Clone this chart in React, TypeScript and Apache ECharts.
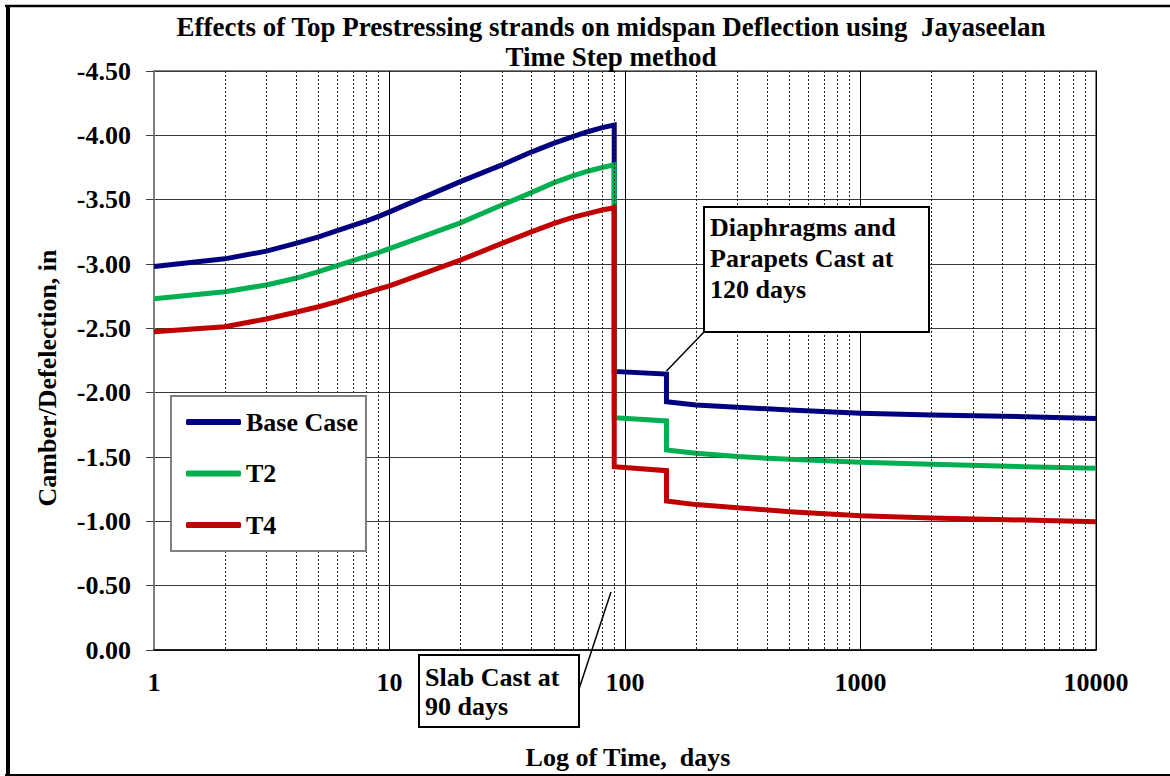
import React, { useEffect, useRef } from "react";
import * as echarts from "echarts";

const days = [1, 2, 3, 4, 5, 6, 7, 8, 9, 10, 20, 30, 40, 50, 60, 70, 80, 90, 90, 150, 150, 200, 300, 500, 1000, 2000, 5000, 10000];
const baseCase = [-2.98, -3.04, -3.10, -3.16, -3.21, -3.26, -3.30, -3.335, -3.37, -3.405, -3.64, -3.77, -3.87, -3.94, -3.99, -4.03, -4.06, -4.08,
  -2.165, -2.145, -1.93, -1.905, -1.886, -1.865, -1.84, -1.826, -1.813, -1.80];
const t2 = [-2.73, -2.785, -2.837, -2.889, -2.94, -2.987, -3.027, -3.06, -3.09, -3.12, -3.32, -3.458, -3.555, -3.632, -3.684, -3.723, -3.75, -3.77,
  -1.805, -1.78, -1.555, -1.53, -1.503, -1.482, -1.459, -1.443, -1.424, -1.413];
const t4 = [-2.474, -2.513, -2.573, -2.625, -2.668, -2.707, -2.746, -2.777, -2.806, -2.83, -3.03, -3.16, -3.25, -3.316, -3.363, -3.394, -3.42, -3.437,
  -1.425, -1.394, -1.158, -1.13, -1.106, -1.075, -1.044, -1.026, -1.01, -0.997];
const seriesNames = ["Base Case", "T2", "T4"];
const seriesColors = ["#000080", "#00B050", "#C00000"];
const minorTicks = [2, 3, 4, 5, 6, 7, 8, 9, 20, 30, 40, 50, 60, 70, 80, 90, 200, 300, 400, 500, 600, 700, 800, 900, 2000, 3000, 4000, 5000, 6000, 7000, 8000, 9000];

const FONT = '"Liberation Serif", "Times New Roman", serif';
const font = (s: number) => `bold ${s}px ${FONT}`;

export default function App() {
  const ref = useRef<HTMLDivElement>(null);
  useEffect(() => {
    if (!ref.current) return;
    const chart = echarts.init(ref.current, null, { renderer: "svg" });
    const allSeries = [baseCase, t2, t4];
    const option: any = {
      animation: false,
      backgroundColor: "#ffffff",
      grid: {
        left: 154, right: 74, top: 71, bottom: 126,
        show: true, borderColor: "#808080", borderWidth: 2,
        containLabel: false, outerBoundsMode: "none",
      },
      xAxis: {
        type: "log", logBase: 10, min: 1, max: 10000,
        axisLine: { show: true, lineStyle: { color: "#000", width: 1.5 } },
        axisTick: { show: false },
        axisLabel: {
          margin: 19, color: "#000", fontSize: 26, fontWeight: "bold", fontFamily: FONT,
          formatter: (v: number) => String(Math.round(v)),
        },
        splitLine: { show: true, lineStyle: { color: "#000", width: 1 } },
        minorTick: { show: false },
      },
      yAxis: {
        type: "value", inverse: true, min: -4.5, max: 0, interval: 0.5,
        axisLine: { show: true, lineStyle: { color: "#808080", width: 2 } },
        axisTick: { show: true, inside: false, length: 8, lineStyle: { color: "#404040", width: 1 } },
        axisLabel: {
          margin: 23, color: "#000", fontSize: 26, fontWeight: "bold", fontFamily: FONT,
          formatter: (v: number) => v.toFixed(2),
        },
        splitLine: { show: true, lineStyle: { color: "#3a3a3a", width: 1 } },
      },
      legend: {
        data: seriesNames,
        orient: "vertical",
        left: 171, top: 396,
        padding: [11, 8, 11, 15],
        itemGap: 21.5,
        itemWidth: 55, itemHeight: 6,
        icon: "roundRect",
        backgroundColor: "#ffffff",
        borderColor: "#808080", borderWidth: 2, borderRadius: 0,
        textStyle: { color: "#000", fontSize: 26, fontWeight: "bold", fontFamily: FONT, lineHeight: 30 },
        selectedMode: false,
        z: 10,
      },
      series: [
        {
          name: "_minor", type: "line", data: [], z: 1, silent: true,
          markLine: {
            silent: true, symbol: ["none", "none"], label: { show: false },
            lineStyle: { color: "#222", width: 1, type: [2, 2] },
            data: minorTicks.map((v) => ({ xAxis: v })),
          },
        },
        ...seriesNames.map((name, i) => ({
          name, type: "line", symbol: "none", z: 3 + i,
          lineStyle: { color: seriesColors[i], width: 5, join: "miter" },
          itemStyle: { color: seriesColors[i] },
          data: days.map((d, k) => [d, allSeries[i][k]]),
        })),
      ],
      graphic: [
        { type: "text", x: 611, y: 42, z: 20, style: { text: "Effects of Top Prestressing strands on midspan Deflection using  Jayaseelan\nTime Step method", font: font(27), fill: "#000", align: "center", verticalAlign: "middle", lineHeight: 30 } },
        { type: "text", x: 47, y: 378, rotation: Math.PI / 2, z: 20, style: { text: "Camber/Defelection, in", font: font(26), fill: "#000", align: "center", verticalAlign: "middle" } },
        { type: "text", x: 628, y: 757, z: 20, style: { text: "Log of Time,  days", font: font(26), fill: "#000", align: "center", verticalAlign: "middle" } },
        // annotation: slab
        { type: "line", z: 20, shape: { x1: 578, y1: 692, x2: 611, y2: 592 }, style: { stroke: "#000", lineWidth: 1.5 } },
        { type: "rect", z: 20, shape: { x: 419, y: 655, width: 160, height: 72 }, style: { fill: "#fff", stroke: "#000", lineWidth: 2 } },
        { type: "text", z: 21, x: 425, y: 662.5, style: { text: "Slab Cast at\n90 days", font: font(26), fill: "#000", align: "left", verticalAlign: "top", lineHeight: 29 } },
        // annotation: diaphragms
        { type: "line", z: 20, shape: { x1: 704, y1: 332, x2: 666.5, y2: 371 }, style: { stroke: "#000", lineWidth: 1.5 } },
        { type: "rect", z: 20, shape: { x: 704, y: 207, width: 225, height: 125 }, style: { fill: "#fff", stroke: "#000", lineWidth: 2 } },
        { type: "text", z: 21, x: 710, y: 211.5, style: { text: "Diaphragms and\nParapets Cast at\n120 days", font: font(26), fill: "#000", align: "left", verticalAlign: "top", lineHeight: 31 } },
        // outer frame
        { type: "line", z: 30, shape: { x1: 5, y1: 6, x2: 1170, y2: 6 }, style: { stroke: "#000", lineWidth: 2.5 } },
        { type: "line", z: 30, shape: { x1: 8, y1: 5, x2: 8, y2: 776 }, style: { stroke: "#000", lineWidth: 4 } },
        { type: "line", z: 30, shape: { x1: 5, y1: 775, x2: 1170, y2: 775 }, style: { stroke: "#000", lineWidth: 2 } },
      ],
    };
    chart.setOption(option);
    return () => chart.dispose();
  }, []);
  return (
    <div
      ref={ref}
      style={{ position: "fixed", left: 0, top: 0, width: 1170, height: 776, background: "#fff" }}
    />
  );
}
